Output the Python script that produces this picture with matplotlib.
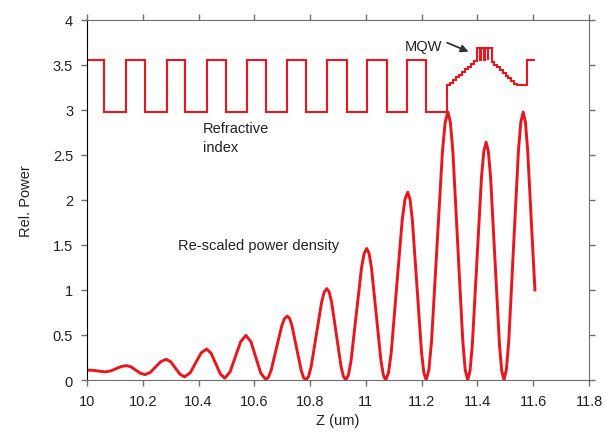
import matplotlib
matplotlib.use("Agg")
import matplotlib.pyplot as plt

plt.rcParams["font.family"] = ["Liberation Sans", "DejaVu Sans"]

# Re-scaled power density (extrema plus points in between)
z_power = [10.000, 10.020, 10.040, 10.065,
           10.084, 10.1035, 10.123, 10.142,
           10.1585, 10.175, 10.1915, 10.208,
           10.227, 10.246, 10.265, 10.284,
           10.3005, 10.317, 10.3335, 10.350,
           10.370, 10.3895, 10.409, 10.429,
           10.445, 10.4615, 10.478, 10.494,
           10.513, 10.532, 10.551, 10.570,
           10.588, 10.6055, 10.623, 10.641,
           10.6506, 10.6603, 10.6795, 10.6988, 10.7084, 10.718,
           10.7264, 10.7348, 10.7515, 10.7683, 10.7766, 10.785,
           10.7944, 10.8038, 10.8225, 10.8413, 10.8506, 10.860,
           10.8685, 10.877, 10.894, 10.911, 10.9195, 10.928,
           10.9374, 10.9468, 10.9655, 10.9843, 10.9936, 11.003,
           11.0115, 11.020, 11.037, 11.054, 11.0625, 11.071,
           11.0809, 11.0908, 11.1105, 11.1303, 11.1401, 11.150,
           11.1583, 11.1665, 11.183, 11.1995, 11.2078, 11.216,
           11.2258, 11.2355, 11.255, 11.2745, 11.2843, 11.294,
           11.3029, 11.3118, 11.3295, 11.3473, 11.3561, 11.365,
           11.3733, 11.3815, 11.398, 11.4145, 11.4228, 11.431,
           11.439, 11.447, 11.463, 11.479, 11.487, 11.495,
           11.5036, 11.5123, 11.5295, 11.5468, 11.5554, 11.564,
           11.572, 11.580, 11.590, 11.600, 11.606]
power = [0.110, 0.108, 0.100, 0.090,
         0.100, 0.125, 0.150, 0.160,
         0.145, 0.110, 0.075, 0.060,
         0.085, 0.145, 0.205, 0.230,
         0.202, 0.133, 0.064, 0.035,
         0.080, 0.190, 0.300, 0.345,
         0.297, 0.183, 0.068, 0.020,
         0.090, 0.258, 0.425, 0.495,
         0.423, 0.250, 0.077, 0.005,
         0.032, 0.108, 0.358, 0.607, 0.683, 0.710,
         0.683, 0.606, 0.355, 0.104, 0.027, 0.000,
         0.039, 0.149, 0.508, 0.866, 0.976, 1.015,
         0.976, 0.866, 0.508, 0.149, 0.039, 0.000,
         0.056, 0.214, 0.730, 1.246, 1.404, 1.460,
         1.404, 1.246, 0.730, 0.214, 0.056, 0.000,
         0.079, 0.305, 1.043, 1.780, 2.006, 2.085,
         2.006, 1.780, 1.043, 0.305, 0.079, 0.000,
         0.113, 0.436, 1.488, 2.540, 2.862, 2.975,
         2.862, 2.540, 1.488, 0.436, 0.113, 0.000,
         0.101, 0.387, 1.320, 2.254, 2.539, 2.640,
         2.539, 2.254, 1.320, 0.387, 0.101, 0.000,
         0.113, 0.436, 1.488, 2.540, 2.862, 2.975,
         2.860, 2.550, 1.950, 1.350, 1.000]

# Refractive index profile: layer edges (um) and index of each layer
layer_edges = [10.000, 10.062, 10.140, 10.208, 10.286, 10.352, 10.429, 10.497,
               10.573, 10.641, 10.716, 10.784, 10.862, 10.933, 11.005, 11.075,
               11.148, 11.217, 11.292,
               11.3025, 11.313, 11.3235, 11.334, 11.3445, 11.355, 11.3655,
               11.376, 11.3865, 11.397,
               11.4085, 11.4115, 11.4225, 11.4255, 11.4365, 11.4395, 11.451,
               11.461, 11.471, 11.481, 11.491, 11.501, 11.511, 11.521, 11.532,
               11.543, 11.579, 11.606]
layer_index = [3.55, 2.97, 3.55, 2.97, 3.55, 2.97, 3.55, 2.97,
               3.55, 2.97, 3.55, 2.97, 3.55, 2.97, 3.55, 2.97,
               3.55, 2.97,
               3.27, 3.30, 3.33, 3.36, 3.39, 3.42, 3.45, 3.48, 3.51, 3.54,
               3.69, 3.55, 3.69, 3.55, 3.69, 3.55, 3.69,
               3.53, 3.50, 3.47, 3.44, 3.41, 3.38, 3.35, 3.32, 3.29,
               3.27, 3.55]

x_ticks = [10.0, 10.2, 10.4, 10.6, 10.8, 11.0, 11.2, 11.4, 11.6, 11.8]
x_tick_labels = ["10", "10.2", "10.4", "10.6", "10.8", "11", "11.2", "11.4", "11.6", "11.8"]
y_ticks = [0, 0.5, 1, 1.5, 2, 2.5, 3, 3.5, 4]
y_tick_labels = ["0", "0.5", "1", "1.5", "2", "2.5", "3", "3.5", "4"]

red = "#e8161d"
axis_grey = "#6e6e6e"

fig = plt.figure(figsize=(6.07, 4.35), dpi=100)
ax = fig.add_axes([0.1433, 0.1241, 0.8271, 0.8283])

ax.stairs(layer_index, layer_edges, baseline=None, color=red, linewidth=1.5)
ax.plot(z_power, power, color=red, linewidth=2.1)

ax.set_xlim(10.0, 11.8)
ax.set_ylim(0, 4)
ax.set_xticks(x_ticks)
ax.set_xticklabels(x_tick_labels)
ax.set_yticks(y_ticks)
ax.set_yticklabels(y_tick_labels)
ax.tick_params(direction="out", length=4, width=1, color=axis_grey,
               top=True, right=True, labelsize=10.5, labelcolor="#222222", pad=6)

for side in ["top", "right", "bottom"]:
    ax.spines[side].set_color(axis_grey)
ax.spines["left"].set_color("black")

ax.set_xlabel("Z (um)", fontsize=10.5, color="#222222", labelpad=4)
ax.set_ylabel("Rel. Power", fontsize=10.5, color="#222222", labelpad=14)

ax.text(10.416, 2.87, "Refractive\nindex", fontsize=10.5, ha="left", va="top",
        linespacing=1.45, color="#222222")
ax.text(10.325, 1.50, "Re-scaled power density", fontsize=10.5, ha="left",
        va="center", color="#222222")
ax.text(11.208, 3.71, "MQW", fontsize=10.5, ha="center", va="center",
        color="#222222")
ax.annotate("", xy=(11.368, 3.645), xytext=(11.291, 3.745),
            arrowprops=dict(arrowstyle="-|>", color="#333333", lw=1.3,
                            shrinkA=0, shrinkB=0, mutation_scale=11))

fig.savefig("out.png", dpi=100)
